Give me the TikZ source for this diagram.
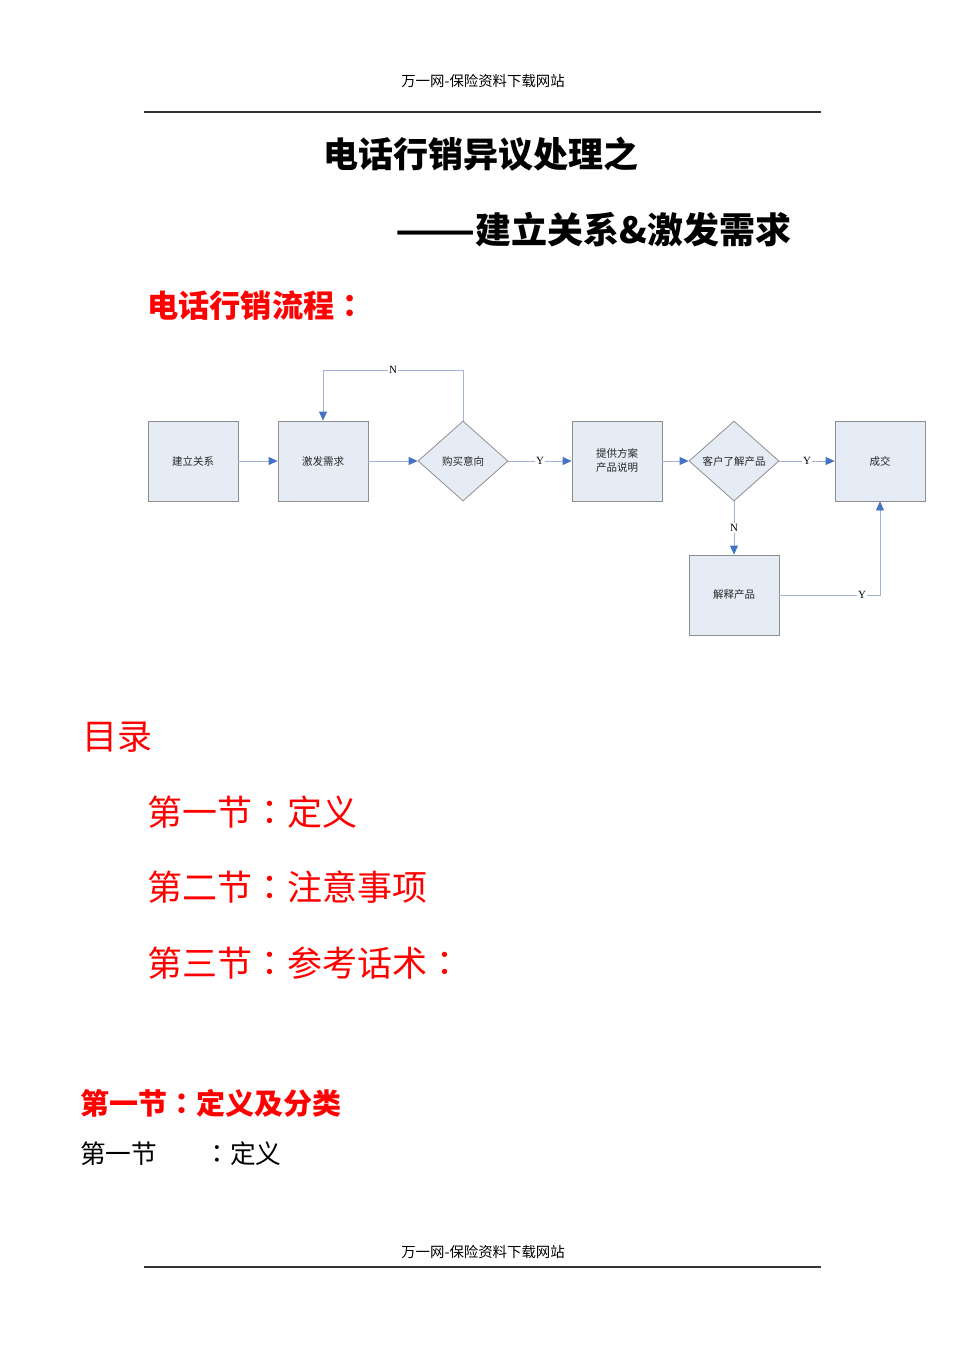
\documentclass[tikz,border=0pt]{standalone}
\usepackage{fontspec}
\usepackage{graphicx}
\setmainfont{Noto Sans CJK SC}
\newfontfamily\tcfont{Noto Sans CJK TC}
\newfontfamily\lblfont{Liberation Serif}
\newcommand\zcolon{{\tcfont ：}}
\usetikzlibrary{shapes.geometric,arrows.meta}
\definecolor{boxfill}{HTML}{E6ECF5}
\definecolor{boxdraw}{HTML}{8E8E8E}
\definecolor{linec}{HTML}{9FB4D6}
\definecolor{arrowc}{HTML}{4472C4}
\definecolor{rulec}{HTML}{333333}
\tikzset{
  fbox/.style={draw=boxdraw, fill=boxfill, line width=0.8pt, minimum width=90pt, minimum height=80pt, inner sep=0pt, align=center, text=black!85, font=\fontsize{10.5}{14}\selectfont},
  fdia/.style={diamond, draw=boxdraw, fill=boxfill, line width=0.8pt, minimum width=90pt, minimum height=80pt, aspect=1.125, inner sep=0pt, text=black!85, font=\fontsize{10.5}{14}\selectfont},
  conn/.style={draw=linec, line width=0.8pt, -{Triangle[length=9pt,width=8pt,color=arrowc]}},
  lbl/.style={fill=white, inner sep=1.5pt, font=\lblfont\fontsize{11}{12}\selectfont},
  hdr/.style={font=\fontsize{14.4}{16}\selectfont, inner sep=0pt},
  redbig/.style={text=red, anchor=west, inner sep=0pt, font=\fontsize{35}{40}\selectfont},
}
\begin{document}
\begin{tikzpicture}[x=1pt,y=-1pt]
\useasboundingbox[fill=white] (0,0) rectangle (965,1365);
% header
\node[hdr] (h1) at (483,81) {万一网-保险资料下载网站};
\coordinate (hl1) at (144,112);
\coordinate (hr1) at (821,112);
\draw[rulec, line width=1.3pt] (hl1) -- (hr1);
% titles
\node[inner sep=0pt, font=\fontsize{35}{40}\selectfont\bfseries] (t1) at (481,154) {电话行销异议处理之};
\node[anchor=west, inner sep=0pt, font=\fontsize{36}{40}\selectfont\bfseries] (t2) at (395,230) {\scalebox{1.3}[1]{——}建立关系\&激发需求};
\node[anchor=west, inner sep=0pt, text=red, font=\fontsize{31.2}{36}\selectfont\bfseries] (t3) at (147,306) {电话行销流程\zcolon};
% flowchart
\node[fbox] (b1) at (193,461) {建立关系};
\node[fbox] (b2) at (323,461) {激发需求};
\node[fdia] (d1) at (463,461) {购买意向};
\node[fbox] (b3) at (617,461) {提供方案\\产品说明};
\node[fdia] (d2) at (734,461) {客户了解产品};
\node[fbox] (b4) at (880,461) {成交};
\node[fbox] (b5) at (734,595) {解释产品};
\coordinate (nt) at (463,370);
\draw[conn] (b1) -- (b2);
\draw[conn] (b2) -- (d1);
\draw[conn] (d1.north) -- (nt) -| (b2.north);
\node[lbl] (ln) at (393,370) {N};
\draw[conn] (d1.east) -- node[lbl] (ly1) {Y} (b3.west);
\draw[conn] (b3.east) -- (d2.west);
\draw[conn] (d2.east) -- node[lbl] (ly2) {Y} (b4.west);
\draw[conn] (d2.south) -- node[lbl] (ln2) {N} (b5.north);
\draw[conn] (b5.east) -| (b4.south);
\node[lbl] (ly3) at (862,595) {Y};
% contents
\node[redbig] (m0) at (82,737) {目录};
\node[redbig] (m1) at (147,812) {第一节\zcolon 定义};
\node[redbig] (m2) at (147,887) {第二节\zcolon 注意事项};
\node[redbig] (m3) at (147,963) {第三节\zcolon 参考话术\zcolon};
\node[anchor=west, inner sep=0pt, text=red, font=\fontsize{29}{32}\selectfont\bfseries] (s1) at (80,1103) {第一节\zcolon 定义及分类};
\node[anchor=west, inner sep=0pt, font=\fontsize{25.7}{30}\selectfont] (s2) at (80,1154) {第一节\hspace{47pt}\zcolon 定义};
% footer
\node[hdr] (h2) at (483,1252) {万一网-保险资料下载网站};
\coordinate (hl2) at (144,1267);
\coordinate (hr2) at (821,1267);
\draw[rulec, line width=1.3pt] (hl2) -- (hr2);
\end{tikzpicture}
\end{document}
